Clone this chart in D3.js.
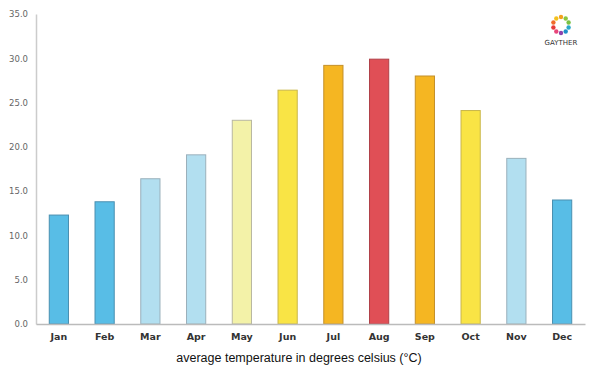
<!DOCTYPE html>
<html><head><meta charset="utf-8">
<script src="https://cdn.jsdelivr.net/npm/d3@7"></script>
<style>body{margin:0;background:#fff}</style>
</head><body>
<svg id="c" width="600" height="375"></svg>
<script>
const months = ["Jan","Feb","Mar","Apr","May","Jun","Jul","Aug","Sep","Oct","Nov","Dec"];
const temps = [12.3,13.8,16.4,19.1,23.0,26.4,29.2,29.9,28.0,24.1,18.7,14.0];
const fills = ["#58bde6","#58bde6","#b2dff0","#b2dff0","#f3f2a8","#f9e445","#f5b622","#e04f56","#f5b622","#f9e445","#b2dff0","#58bde6"];
const strokes = ["#4a8fb0","#4a8fb0","#9ab0bb","#9ab0bb","#b8b7a0","#c9b64a","#c4902a","#b04048","#c4902a","#c9b64a","#9ab0bb","#4a8fb0"];
const yTicks = [0,5,10,15,20,25,30,35];
const xTitle = "average temperature in degrees celsius (°C)";

const svg = d3.select("#c");
const L = 36, R = 585, T = 14, B = 324;
const x = d3.scaleBand().domain(months).range([L, R]).paddingInner(0.58).paddingOuter(0.29);
const y = d3.scaleLinear().domain([0, 35]).range([B, T]);

svg.append("g").selectAll("rect").data(months).join("rect")
  .attr("x", d => x(d)).attr("width", x.bandwidth())
  .attr("y", (d,i) => y(temps[i])).attr("height", (d,i) => B - y(temps[i]))
  .attr("fill", (d,i) => fills[i]).attr("stroke", (d,i) => strokes[i]).attr("stroke-width", 1);

const ya = svg.append("g").attr("transform", `translate(${L},0)`)
  .call(d3.axisLeft(y).tickValues(yTicks).tickFormat(d3.format(".1f")).tickSize(0).tickPadding(8));
ya.select(".domain").attr("stroke", "#ccc").attr("stroke-width", 1.5);
ya.selectAll("text").attr("font-family", "'DejaVu Sans', sans-serif").attr("font-size", 8.5).attr("fill", "#666");

const xa = svg.append("g").attr("transform", `translate(0,${B})`)
  .call(d3.axisBottom(x).tickSize(0).tickPadding(9));
xa.select(".domain").attr("stroke", "#bbb").attr("stroke-width", 1.5);
xa.selectAll("text").attr("font-family", "'DejaVu Sans', sans-serif").attr("font-size", 9.5).attr("font-weight", "bold").attr("fill", "#333");

svg.append("text").attr("x", 299).attr("y", 362).attr("text-anchor", "middle")
  .attr("font-family", "'Liberation Sans', Arial, sans-serif").attr("font-size", 12.5).attr("fill", "#111").text(xTitle);

// logo
const logoColors = ["#f3a11e","#8cc63f","#7ac143","#28a8c8","#1f8fc9","#8e44ad","#e8457a","#e63a3a","#f06a2a","#f3c11e"];
const lg = svg.append("g").attr("transform", "translate(561,25)");
lg.selectAll("circle").data(logoColors).join("circle")
  .attr("cx", (d,i) => 8 * Math.cos(i / logoColors.length * 2 * Math.PI - Math.PI/2))
  .attr("cy", (d,i) => 8 * Math.sin(i / logoColors.length * 2 * Math.PI - Math.PI/2))
  .attr("r", 2.2).attr("fill", d => d);
svg.append("text").attr("x", 561).attr("y", 45).attr("text-anchor", "middle")
  .attr("font-family", "'DejaVu Sans', sans-serif").attr("font-size", 7).attr("fill", "#333").text("GAYTHER");
</script>
</body></html>
